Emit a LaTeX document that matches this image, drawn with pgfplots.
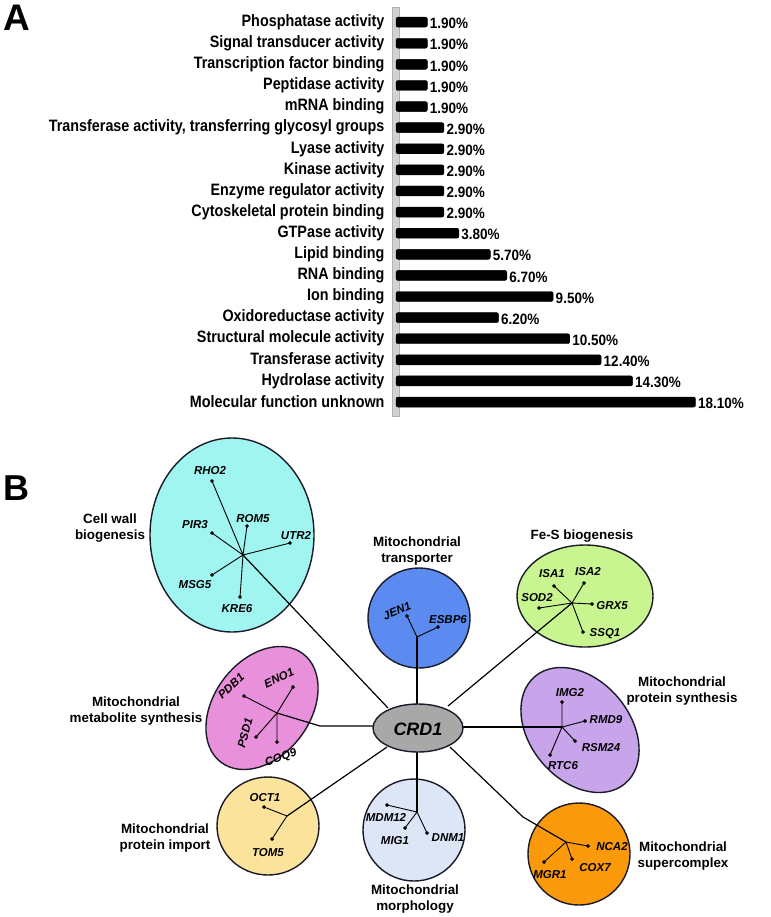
\documentclass[border=0pt]{standalone}
\usepackage{fontspec}
\setmainfont{Liberation Sans}
\newfontfamily\narrowf[FakeStretch=0.87]{Liberation Sans}
\newfontfamily\narrowv[FakeStretch=0.9]{Liberation Sans}
\usepackage{pgfplots}
\pgfplotsset{compat=1.18}
\definecolor{cwall}{HTML}{A0F5F0}
\definecolor{ctrans}{HTML}{5B8AF0}
\definecolor{cfes}{HTML}{C8F590}
\definecolor{cmeta}{HTML}{E890DA}
\definecolor{cpsyn}{HTML}{C8A5EA}
\definecolor{cimp}{HTML}{FBE39C}
\definecolor{cmorph}{HTML}{DCE6F7}
\definecolor{csup}{HTML}{FA9A0A}
\definecolor{ccrd}{HTML}{A8A8A8}
\definecolor{cedge}{HTML}{1A1A28}
\newcommand{\gfont}{\bfseries\fontsize{13.4}{16}\selectfont}
\newcommand{\genef}{\bfseries\itshape\fontsize{11.5}{13}\selectfont}
\begin{document}
\begin{tikzpicture}
\useasboundingbox (0pt,0pt) rectangle (770pt,-917pt);
% ---------------- Panel A ----------------
\node[anchor=north west, inner sep=0pt, font=\bfseries\fontsize{37}{37}\selectfont] at (3pt,-5pt) {A};
\begin{axis}[
  scale only axis, width=374pt, height=401pt,
  at={(396pt,-412.6pt)}, anchor=south west,
  xbar, bar width=10pt,
  xmin=0, xmax=22.6, ymin=0.5, ymax=19.5,
  axis x line=none, axis y line*=left,
  y axis line style={draw=none},
  major tick length=0pt,
  ytick={1,...,19},
  yticklabels={Molecular function unknown, Hydrolase activity, Transferase activity, Structural molecule activity, Oxidoreductase activity, Ion binding, RNA binding, Lipid binding, GTPase activity, Cytoskeletal protein binding, Enzyme regulator activity, Kinase activity, Lyase activity, {Transferase activity, transferring glycosyl groups}, mRNA binding, Peptidase activity, Transcription factor binding, Signal transducer activity, Phosphatase activity},
  yticklabel style={font=\narrowf\bfseries\fontsize{16.5}{18}\selectfont, xshift=-8pt},
  /pgf/number format/assume math mode=true,
  nodes near coords={\pgfmathprintnumber[fixed,fixed zerofill,precision=2,assume math mode=true]{\pgfplotspointmeta}\%},
  nodes near coords style={font=\narrowv\bfseries\fontsize{15}{16}\selectfont, anchor=west, xshift=-1pt, yshift=-1.5pt},
  point meta=explicit,
  clip=false,
]
\fill[gray!35, draw=gray!60] ([xshift=-3.5pt]rel axis cs:0,-0.01) rectangle ([xshift=3.5pt]rel axis cs:0,1.01);
\addplot[fill=black, draw=black, rounded corners=2pt] coordinates {
 (18.1,1) [18.1] (14.3,2) [14.3] (12.4,3) [12.4] (10.5,4) [10.5] (6.2,5) [6.2]
 (9.5,6) [9.5] (6.7,7) [6.7] (5.7,8) [5.7] (3.8,9) [3.8] (2.9,10) [2.9]
 (2.9,11) [2.9] (2.9,12) [2.9] (2.9,13) [2.9] (2.9,14) [2.9] (1.9,15) [1.9]
 (1.9,16) [1.9] (1.9,17) [1.9] (1.9,18) [1.9] (1.9,19) [1.9]};
\end{axis}
% ---------------- Panel B ----------------
\node[anchor=north west, inner sep=0pt, font=\bfseries\fontsize{36}{36}\selectfont] at (3pt,-476pt) {B};
\begin{axis}[
  scale only axis, width=770pt, height=497pt,
  at={(0pt,-917pt)}, anchor=south west,
  xmin=0, xmax=770, ymin=420, ymax=917, y dir=reverse,
  axis lines=none, clip=false,
]
% group shapes
\draw[fill=cwall, draw=cedge, line width=1.4pt] (axis cs:232,535) ellipse [x radius=82pt, y radius=97pt];
\draw[fill=ctrans, draw=cedge, line width=1.4pt] (axis cs:419,618) ellipse [x radius=51pt, y radius=50pt];
\draw[fill=cfes, draw=cedge, line width=1.4pt] (axis cs:585,596) ellipse [x radius=68pt, y radius=51pt];
\draw[fill=cmeta, draw=cedge, line width=1.4pt] (axis cs:262,708) ellipse [x radius=48pt, y radius=68pt, rotate=-37];
\draw[fill=cpsyn, draw=cedge, line width=1.4pt] (axis cs:580,730) ellipse [x radius=50pt, y radius=70pt, rotate=40];
\draw[fill=cimp, draw=cedge, line width=1.4pt] (axis cs:268,826) ellipse [x radius=51pt, y radius=49pt];
\draw[fill=cmorph, draw=cedge, line width=1.4pt] (axis cs:414,830) ellipse [x radius=51pt, y radius=51pt];
\draw[fill=csup, draw=cedge, line width=1.4pt] (axis cs:579,854) ellipse [x radius=51pt, y radius=51pt];
% connectors to CRD1
\addplot[black, line width=1.2pt] coordinates {(243,555) (388,708)};
\addplot[black, line width=1.2pt] coordinates {(417,637) (417,706)};
\addplot[black, line width=1.2pt] coordinates {(572,603) (448,706)};
\addplot[black, line width=1.2pt] coordinates {(277,713) (320,726) (375,726)};
\addplot[black, line width=1.2pt] coordinates {(462,727) (562,727)};
\addplot[black, line width=1.2pt] coordinates {(387,747) (287,816)};
\addplot[black, line width=1.2pt] coordinates {(417,750) (417,812)};
\addplot[black, line width=1.2pt] coordinates {(450,747) (523,817) (566,842)};
% branches inside groups
\addplot[black, line width=0.9pt, unbounded coords=jump] coordinates {
 (243,555) (212,481) (nan,nan) (243,555) (247,526) (nan,nan) (243,555) (212,533) (nan,nan)
 (243,555) (290,543) (nan,nan) (243,555) (212,575) (nan,nan) (243,555) (240,597) (nan,nan)
 (417,637) (407,616) (nan,nan) (417,637) (438,627) (nan,nan)
 (572,603) (554,586) (nan,nan) (572,603) (584,583) (nan,nan) (572,603) (539,608) (nan,nan)
 (572,603) (592,604) (nan,nan) (572,603) (583,632) (nan,nan)
 (277,713) (244,696) (nan,nan) (277,713) (293,687) (nan,nan) (277,713) (256,737) (nan,nan) (277,713) (277,742) (nan,nan)
 (562,727) (562,702) (nan,nan) (562,727) (585,721) (nan,nan) (562,727) (575,741) (nan,nan) (562,727) (550,755) (nan,nan)
 (287,816) (264,807) (nan,nan) (287,816) (283,822) (272,839) (nan,nan)
 (417,812) (387,805) (nan,nan) (417,812) (405,828) (nan,nan) (417,812) (427,833) (nan,nan)
 (566,842) (588,846) (nan,nan) (566,842) (544,862) (nan,nan) (566,842) (572,859)
};
% gene dots
\addplot[only marks, mark=*, mark size=1.7pt, black] coordinates {
 (212,481) (247,526) (212,533) (290,543) (212,575) (240,597)
 (407,616) (438,627)
 (554,586) (584,583) (539,608) (592,604) (583,632)
 (244,696) (293,687) (256,737) (277,742)
 (562,702) (585,721) (575,741) (550,755)
 (264,807) (272,839)
 (387,805) (405,828) (427,833)
 (588,846) (544,862) (572,859)
};
% CRD1
\draw[fill=ccrd, draw=cedge, line width=1.4pt] (axis cs:418,728) ellipse [x radius=45pt, y radius=24pt];
\node[font=\bfseries\itshape\fontsize{18}{20}\selectfont] at (axis cs:418,729) {CRD1};
% gene labels
\begin{scope}[every node/.style={font=\genef, inner sep=0pt}]
\node at (axis cs:210,471) {RHO2};
\node at (axis cs:253,519) {ROM5};
\node at (axis cs:195,525) {PIR3};
\node at (axis cs:296,536) {UTR2};
\node at (axis cs:195,585) {MSG5};
\node at (axis cs:237,609) {KRE6};
\node[rotate=22] at (axis cs:397,611) {JEN1};
\node at (axis cs:448,620) {ESBP6};
\node at (axis cs:552,574) {ISA1};
\node at (axis cs:588,572) {ISA2};
\node at (axis cs:537,598) {SOD2};
\node at (axis cs:612,606) {GRX5};
\node at (axis cs:605,634) {SSQ1};
\node[rotate=42] at (axis cs:231,686) {PDB1};
\node[rotate=25] at (axis cs:279,678) {ENO1};
\node[rotate=75] at (axis cs:245,733) {PSD1};
\node[rotate=20] at (axis cs:281,758) {COQ9};
\node at (axis cs:570,693) {IMG2};
\node at (axis cs:606,720) {RMD9};
\node at (axis cs:601,748) {RSM24};
\node at (axis cs:563,766) {RTC6};
\node at (axis cs:265,798) {OCT1};
\node at (axis cs:268,853) {TOM5};
\node at (axis cs:386,817) {MDM12};
\node at (axis cs:395,841) {MIG1};
\node at (axis cs:448,838) {DNM1};
\node at (axis cs:612,847) {NCA2};
\node at (axis cs:550,875) {MGR1};
\node at (axis cs:595,868) {COX7};
\end{scope}
% group labels
\begin{scope}[every node/.style={font=\gfont, align=center, inner sep=0pt}]
\node at (axis cs:110,528) {Cell wall\\biogenesis};
\node at (axis cs:417,551) {Mitochondrial\\transporter};
\node at (axis cs:582,536) {Fe-S biogenesis};
\node at (axis cs:136,711) {Mitochondrial\\metabolite synthesis};
\node at (axis cs:682,691) {Mitochondrial\\protein synthesis};
\node at (axis cs:165,838) {Mitochondrial\\protein import};
\node at (axis cs:415,899) {Mitochondrial\\morphology};
\node at (axis cs:683,856) {Mitochondrial\\supercomplex};
\end{scope}
\end{axis}
\end{tikzpicture}
\end{document}
